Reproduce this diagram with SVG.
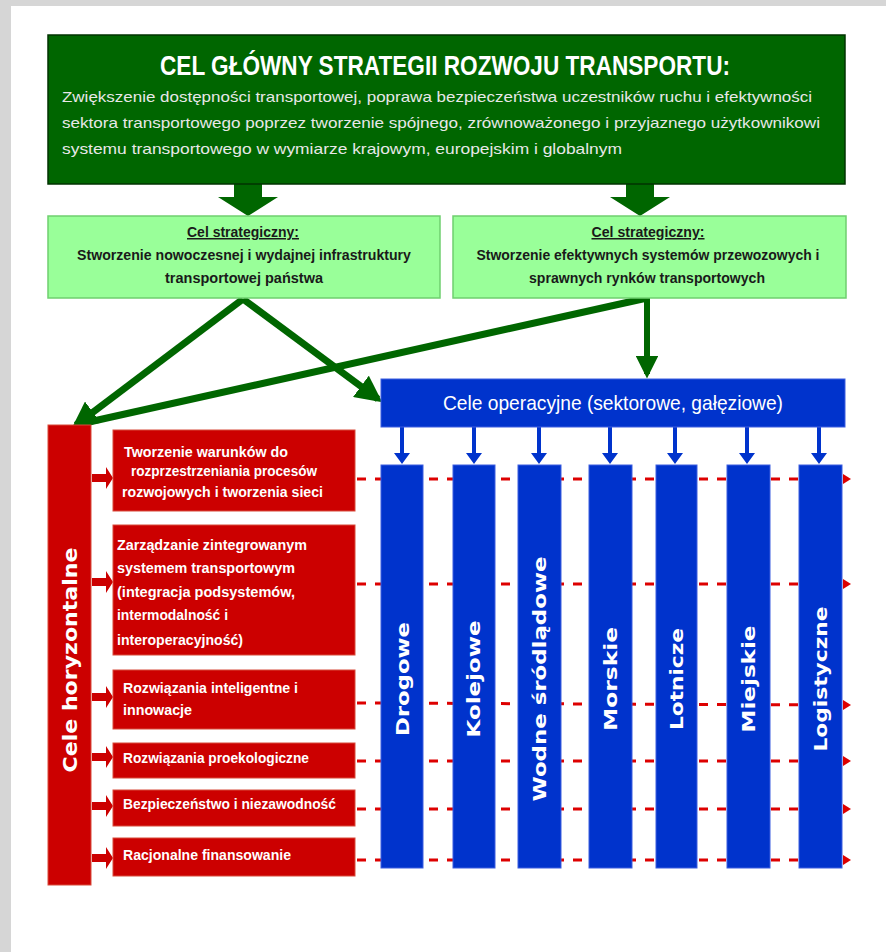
<svg xmlns="http://www.w3.org/2000/svg" width="886" height="952" viewBox="0 0 886 952">
<defs>
<style>
.t{font-family:"Liberation Sans",Arial,sans-serif}
.d{font-family:"DejaVu Sans","Liberation Sans",sans-serif;font-weight:bold;fill:#fff}
.w{fill:#fff;font-weight:bold;font-size:14px}
.s{fill:#1a1a1a;font-weight:bold;font-size:15px}
.sg{fill:#99FF99;stroke:#6fcf6f;stroke-width:1.5}
.rb{fill:#CC0000;stroke:#d84a3a;stroke-width:1}
.bc{fill:#0033CC;stroke:#3d5fe0;stroke-width:1}
.gl{stroke:#006600;stroke-width:7;fill:none}
.dash{stroke:#DD0000;stroke-width:3;stroke-dasharray:9 9;fill:none}
</style>
<marker id="ga" viewBox="0 0 10 10" refX="8" refY="5" markerWidth="3.8" markerHeight="3.8" orient="auto" markerUnits="strokeWidth">
<path d="M0,0 L10,5 L0,10 z" fill="#006600"/>
</marker>
</defs>
<rect x="0" y="0" width="886" height="952" fill="#d6d6d6"/>
<rect x="11" y="6" width="875" height="946" fill="#ffffff"/>

<g id="connectors">
<!-- block arrows from main goal -->
<path d="M234,184 L262,184 L262,197 L278,197 L248,216 L218,197 L234,197 z" fill="#006600"/>
<path d="M626,184 L654,184 L654,197 L670,197 L640,216 L610,197 L626,197 z" fill="#006600"/>
<!-- green connectors -->
<line class="gl" x1="647" y1="298" x2="80" y2="424"/>
<line class="gl" x1="243" y1="299" x2="76" y2="425" marker-end="url(#ga)"/>
<line class="gl" x1="243" y1="299" x2="378" y2="399" marker-end="url(#ga)"/>
<line class="gl" x1="647" y1="297" x2="647" y2="374" style="stroke-width:6" marker-end="url(#ga)"/>
<!-- blue arrows header to columns -->
<g fill="#0033CC" stroke="none">
<path d="M400,427 h4 v26 h6 l-8,11 l-8,-11 h6 z"/>
<path d="M472,427 h4 v26 h6 l-8,11 l-8,-11 h6 z"/>
<path d="M537,427 h4 v26 h6 l-8,11 l-8,-11 h6 z"/>
<path d="M608,427 h4 v26 h6 l-8,11 l-8,-11 h6 z"/>
<path d="M673,427 h4 v26 h6 l-8,11 l-8,-11 h6 z"/>
<path d="M745,427 h4 v26 h6 l-8,11 l-8,-11 h6 z"/>
<path d="M817,427 h4 v26 h6 l-8,11 l-8,-11 h6 z"/>
</g>
<!-- red dashed lines -->
<g>
<line class="dash" x1="357" y1="479" x2="843" y2="479"/>
<line class="dash" x1="357" y1="584" x2="843" y2="584"/>
<line class="dash" x1="357" y1="703" x2="843" y2="705"/>
<line class="dash" x1="357" y1="761" x2="843" y2="761"/>
<line class="dash" x1="357" y1="809" x2="843" y2="809"/>
<line class="dash" x1="357" y1="860" x2="843" y2="860"/>
</g>
<g fill="#DD0000">
<path d="M843,474 L851,479 L843,484 z"/>
<path d="M843,579 L851,584 L843,589 z"/>
<path d="M843,700 L851,705 L843,710 z"/>
<path d="M843,756 L851,761 L843,766 z"/>
<path d="M843,804 L851,809 L843,814 z"/>
<path d="M843,855 L851,860 L843,865 z"/>
</g>
<!-- red block arrows from bar to boxes -->
<g fill="#CC0000">
<path d="M92,474 h14 v-7 l7,11 l-7,11 v-7 h-14 z"/>
<path d="M92,578 h14 v-7 l7,11 l-7,11 v-7 h-14 z"/>
<path d="M92,693 h14 v-7 l7,11 l-7,11 v-7 h-14 z"/>
<path d="M92,753 h14 v-7 l7,11 l-7,11 v-7 h-14 z"/>
<path d="M92,802 h14 v-7 l7,11 l-7,11 v-7 h-14 z"/>
<path d="M92,854 h14 v-7 l7,11 l-7,11 v-7 h-14 z"/>
</g>
</g>

<g id="main-goal">
<rect x="48" y="35" width="797" height="149" fill="#006600" stroke="#003300" stroke-width="1.5"/>
<text class="t" x="445" y="75" text-anchor="middle" font-size="28" font-weight="bold" fill="#ffffff" textLength="570" lengthAdjust="spacingAndGlyphs">CEL GŁÓWNY STRATEGII ROZWOJU TRANSPORTU:</text>
<text class="t" x="62" y="102" font-size="15" fill="#e8e8e8" textLength="750" lengthAdjust="spacingAndGlyphs">Zwiększenie dostępności transportowej, poprawa bezpieczeństwa uczestników ruchu i efektywności</text>
<text class="t" x="62" y="128" font-size="15" fill="#e8e8e8" textLength="758" lengthAdjust="spacingAndGlyphs">sektora transportowego poprzez tworzenie spójnego, zrównoważonego i przyjaznego użytkownikowi</text>
<text class="t" x="62" y="154" font-size="15" fill="#e8e8e8" textLength="560" lengthAdjust="spacingAndGlyphs">systemu transportowego  w wymiarze krajowym, europejskim i globalnym</text>
</g>

<g id="strategic-1">
<rect class="sg" x="48" y="216" width="392" height="82"/>
<text class="t s" x="243" y="237" text-anchor="middle" text-decoration="underline" font-size="14" textLength="112" lengthAdjust="spacingAndGlyphs">Cel strategiczny:</text>
<text class="t s" x="244" y="260" text-anchor="middle" textLength="334" lengthAdjust="spacingAndGlyphs">Stworzenie nowoczesnej i wydajnej infrastruktury</text>
<text class="t s" x="244" y="283" text-anchor="middle" textLength="158" lengthAdjust="spacingAndGlyphs">transportowej państwa</text>
</g>

<g id="strategic-2">
<rect class="sg" x="453" y="216" width="393" height="82"/>
<text class="t s" x="648" y="237" text-anchor="middle" text-decoration="underline" font-size="14" textLength="113" lengthAdjust="spacingAndGlyphs">Cel strategiczny:</text>
<text class="t s" x="648" y="260" text-anchor="middle" textLength="343" lengthAdjust="spacingAndGlyphs">Stworzenie efektywnych systemów przewozowych i</text>
<text class="t s" x="647" y="283" text-anchor="middle" textLength="236" lengthAdjust="spacingAndGlyphs">sprawnych rynków transportowych</text>
</g>

<g id="operational-header">
<rect class="bc" x="381" y="379" width="464" height="48"/>
<text class="t" x="613" y="410" text-anchor="middle" font-size="21" fill="#ffffff" textLength="340" lengthAdjust="spacingAndGlyphs">Cele operacyjne (sektorowe, gałęziowe)</text>
</g>

<g id="col-drogowe">
<rect class="bc" x="381" y="465" width="42" height="403"/>
<text class="d" transform="translate(403,679) rotate(-90)" text-anchor="middle" dominant-baseline="central" font-size="17" textLength="114" lengthAdjust="spacingAndGlyphs">Drogowe</text>
</g>
<g id="col-kolejowe">
<rect class="bc" x="453" y="465" width="42" height="403"/>
<text class="d" transform="translate(474,679) rotate(-90)" text-anchor="middle" dominant-baseline="central" font-size="17" textLength="117" lengthAdjust="spacingAndGlyphs">Kolejowe</text>
</g>
<g id="col-wodne">
<rect class="bc" x="518" y="465" width="43" height="403"/>
<text class="d" transform="translate(540,679) rotate(-90)" text-anchor="middle" dominant-baseline="central" font-size="17" textLength="245" lengthAdjust="spacingAndGlyphs">Wodne śródlądowe</text>
</g>
<g id="col-morskie">
<rect class="bc" x="589" y="465" width="43" height="403"/>
<text class="d" transform="translate(611,679) rotate(-90)" text-anchor="middle" dominant-baseline="central" font-size="17" textLength="104" lengthAdjust="spacingAndGlyphs">Morskie</text>
</g>
<g id="col-lotnicze">
<rect class="bc" x="656" y="465" width="41" height="403"/>
<text class="d" transform="translate(677,679) rotate(-90)" text-anchor="middle" dominant-baseline="central" font-size="17" textLength="102" lengthAdjust="spacingAndGlyphs">Lotnicze</text>
</g>
<g id="col-miejskie">
<rect class="bc" x="727" y="465" width="43" height="403"/>
<text class="d" transform="translate(749,679) rotate(-90)" text-anchor="middle" dominant-baseline="central" font-size="17" textLength="107" lengthAdjust="spacingAndGlyphs">Miejskie</text>
</g>
<g id="col-logistyczne">
<rect class="bc" x="799" y="465" width="43" height="403"/>
<text class="d" transform="translate(821,679) rotate(-90)" text-anchor="middle" dominant-baseline="central" font-size="17" textLength="145" lengthAdjust="spacingAndGlyphs">Logistyczne</text>
</g>

<g id="horizontal-bar">
<rect class="rb" x="48" y="425" width="43" height="460"/>
<text class="d" transform="translate(70,660) rotate(-90)" text-anchor="middle" dominant-baseline="central" font-size="19" textLength="225" lengthAdjust="spacingAndGlyphs">Cele horyzontalne</text>
</g>

<g id="h-1">
<rect class="rb" x="113" y="430" width="242" height="81"/>
<text class="t w" x="124" y="457" textLength="164" lengthAdjust="spacingAndGlyphs">Tworzenie warunków do</text>
<text class="t w" x="131" y="476" textLength="186" lengthAdjust="spacingAndGlyphs">rozprzestrzeniania procesów</text>
<text class="t w" x="122" y="497" textLength="201" lengthAdjust="spacingAndGlyphs">rozwojowych i tworzenia sieci</text>
</g>
<g id="h-2">
<rect class="rb" x="113" y="525" width="242" height="130"/>
<text class="t w" x="117" y="550" textLength="190" lengthAdjust="spacingAndGlyphs">Zarządzanie zintegrowanym</text>
<text class="t w" x="117" y="573" textLength="178" lengthAdjust="spacingAndGlyphs">systemem transportowym</text>
<text class="t w" x="117" y="597" textLength="178" lengthAdjust="spacingAndGlyphs">(integracja podsystemów,</text>
<text class="t w" x="117" y="620" textLength="111" lengthAdjust="spacingAndGlyphs">intermodalność i</text>
<text class="t w" x="117" y="645" textLength="126" lengthAdjust="spacingAndGlyphs">interoperacyjność)</text>
</g>
<g id="h-3">
<rect class="rb" x="113" y="670" width="242" height="59"/>
<text class="t w" x="123" y="693" textLength="175" lengthAdjust="spacingAndGlyphs">Rozwiązania inteligentne i</text>
<text class="t w" x="123" y="715" textLength="69" lengthAdjust="spacingAndGlyphs">innowacje</text>
</g>
<g id="h-4">
<rect class="rb" x="113" y="743" width="242" height="35"/>
<text class="t w" x="123" y="763" textLength="186" lengthAdjust="spacingAndGlyphs">Rozwiązania proekologiczne</text>
</g>
<g id="h-5">
<rect class="rb" x="113" y="790" width="242" height="36"/>
<text class="t w" x="123" y="809" textLength="213" lengthAdjust="spacingAndGlyphs">Bezpieczeństwo i niezawodność</text>
</g>
<g id="h-6">
<rect class="rb" x="113" y="838" width="242" height="38"/>
<text class="t w" x="123" y="860" textLength="168" lengthAdjust="spacingAndGlyphs">Racjonalne finansowanie</text>
</g>
</svg>
